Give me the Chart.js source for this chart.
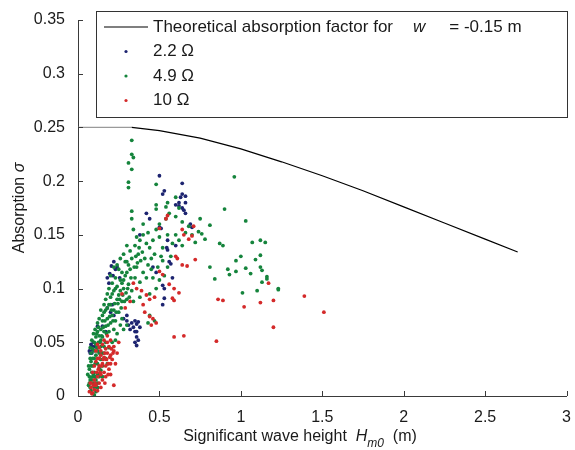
<!DOCTYPE html>
<html>
<head>
<meta charset="utf-8">
<script src="https://cdn.jsdelivr.net/npm/chart.js@4.4.1/dist/chart.umd.min.js"></script>
<style>
  html, body { margin: 0; padding: 0; background: #fff; }
</style>
</head>
<body>
<canvas id="chart" width="575" height="450"></canvas>
<script>
'use strict';

// ── Data ─────────────────────────────────────────────────────
const xTicks = [0, 0.5, 1, 1.5, 2, 2.5, 3];
const yTicks = [0, 0.05, 0.1, 0.15, 0.2, 0.25, 0.3, 0.35];

const seriesLabels = ['Theoretical absorption factor for', '2.2 \u03A9', '4.9 \u03A9', '10 \u03A9'];

// theoretical curve, w = -0.15 m
const theoryH     = [0, 0.33, 0.5, 0.75, 1.0, 1.25, 1.5, 1.75, 2.0, 2.25, 2.5, 2.7];
const theorySigma = [0.25, 0.25, 0.247, 0.240, 0.230, 0.218, 0.205, 0.191, 0.176, 0.161, 0.146, 0.134];

// measured points [Hm0, sigma]
const pts22 = [
  [0.50,0.205],[0.64,0.198],[0.53,0.191],[0.52,0.188],[0.64,0.188],[0.66,0.186],[0.60,0.178],[0.62,0.177],
  [0.64,0.175],[0.65,0.173],[0.66,0.170],[0.62,0.180],[0.50,0.157],[0.51,0.156],[0.545,0.138],[0.55,0.136],
  [0.56,0.125],[0.57,0.123],[0.53,0.100],[0.52,0.103],[0.58,0.110],[0.205,0.121],[0.195,0.114],[0.215,0.112],
  [0.256,0.110],[0.23,0.118],[0.18,0.110],[0.19,0.105],[0.31,0.066],[0.33,0.068],[0.35,0.070],[0.36,0.067],
  [0.37,0.069],[0.34,0.064],[0.35,0.060],[0.36,0.055],[0.35,0.050],[0.36,0.047],[0.37,0.052],[0.083,0.046],
  [0.09,0.043],[0.075,0.040],[0.08,0.048],[0.095,0.050],[0.18,0.082],[0.20,0.078],[0.22,0.075],[0.21,0.085],
  [0.28,0.072],[0.30,0.075],[0.42,0.170],[0.44,0.165],[0.38,0.150],[0.55,0.145],[0.48,0.115],[0.46,0.120],
  [0.17,0.060],[0.15,0.065],[0.12,0.065],[0.60,0.140],[0.53,0.091],[0.52,0.085],[0.69,0.160],[0.70,0.157],
  [0.07,0.042],[0.085,0.040],[0.10,0.046],[0.30,0.070],[0.32,0.062],[0.38,0.064],[0.36,0.060],[0.24,0.120],
  [0.22,0.125],[0.66,0.180],[0.63,0.185]
];

const pts49 = [
  [0.07,0.012],[0.08,0.005],[0.09,0.018],[0.07,0.025],[0.08,0.032],[0.09,0.028],[0.10,0.022],[0.11,0.015],
  [0.10,0.035],[0.08,0.040],[0.09,0.044],[0.11,0.038],[0.12,0.030],[0.12,0.020],[0.13,0.026],[0.10,0.008],
  [0.11,0.004],[0.13,0.040],[0.14,0.034],[0.15,0.028],[0.07,0.018],[0.085,0.022],[0.095,0.012],[0.105,0.030],
  [0.115,0.045],[0.125,0.050],[0.075,0.035],[0.06,0.020],[0.065,0.028],[0.14,0.046],[0.16,0.040],[0.17,0.035],
  [0.18,0.030],[0.15,0.018],
  [0.065,0.010],[0.075,0.008],[0.085,0.015],[0.095,0.020],[0.105,0.018],[0.12,0.012],[0.13,0.018],[0.14,0.024],
  [0.075,0.045],[0.085,0.052],[0.095,0.058],[0.105,0.062],[0.115,0.058],[0.125,0.064],[0.135,0.050],[0.145,0.056],
  [0.155,0.064],[0.165,0.070],[0.175,0.058],[0.185,0.066],[0.195,0.074],[0.205,0.080],[0.215,0.070],[0.225,0.086],
  [0.235,0.078],[0.245,0.086],[0.255,0.090],[0.265,0.082],[0.275,0.094],[0.285,0.088],[0.295,0.096],[0.305,0.100],
  [0.315,0.092],[0.325,0.110],[0.345,0.120],[0.355,0.130],[0.365,0.124],[0.375,0.138],[0.385,0.126],[0.395,0.134],
  [0.41,0.128],[0.43,0.122],[0.46,0.110],[0.49,0.120],[0.51,0.130],[0.21,0.095],[0.23,0.100],[0.24,0.090],
  [0.26,0.098],[0.28,0.108],[0.30,0.115],[0.31,0.122],[0.29,0.125],[0.27,0.105],[0.19,0.085],[0.16,0.085],
  [0.15,0.075],[0.17,0.080],[0.11,0.048],[0.13,0.035],[0.15,0.040],[0.16,0.046],[0.09,0.035],[0.10,0.042],
  [0.12,0.042],[0.14,0.052],[0.08,0.028],[0.075,0.015],[0.10,0.001],[0.12,0.008],
  [0.10,0.050],[0.11,0.055],[0.12,0.060],[0.13,0.056],[0.14,0.062],[0.15,0.055],[0.16,0.060],[0.12,0.068],
  [0.13,0.072],[0.15,0.070],[0.17,0.065],[0.18,0.072],[0.16,0.078],[0.19,0.060],[0.20,0.068],[0.21,0.075],
  [0.22,0.062],[0.23,0.070],[0.24,0.058],[0.14,0.080],[0.18,0.082],[0.20,0.085],[0.22,0.080],[0.25,0.078],
  [0.26,0.066],[0.17,0.050],[0.19,0.045],[0.21,0.050],[0.23,0.052],[0.27,0.072],[0.28,0.062],[0.30,0.066],
  [0.43,0.068],[0.44,0.075],[0.47,0.070],
  [0.17,0.090],[0.18,0.095],[0.19,0.100],[0.20,0.092],[0.21,0.105],[0.22,0.098],[0.23,0.110],[0.24,0.102],
  [0.25,0.094],[0.26,0.108],[0.27,0.115],[0.28,0.100],[0.29,0.112],[0.30,0.090],[0.31,0.104],[0.32,0.118],
  [0.33,0.098],[0.35,0.110],[0.36,0.120],[0.38,0.106],[0.40,0.115],[0.42,0.110],[0.45,0.118],[0.48,0.100],
  [0.50,0.108],[0.53,0.112],[0.55,0.120],[0.20,0.112],[0.22,0.120],[0.25,0.118],[0.27,0.088],[0.34,0.088],
  [0.38,0.092],[0.44,0.095],
  [0.24,0.122],[0.26,0.128],[0.28,0.132],[0.30,0.125],[0.32,0.135],[0.33,0.128],[0.35,0.140],[0.37,0.132],
  [0.36,0.148],[0.38,0.145],[0.40,0.150],[0.42,0.142],[0.44,0.138],[0.46,0.145],[0.48,0.155],[0.50,0.148],
  [0.52,0.138],[0.55,0.150],[0.58,0.142],[0.60,0.150],[0.62,0.145],[0.64,0.140],[0.66,0.152],[0.68,0.158],
  [0.70,0.150],[0.72,0.143],[0.74,0.153],[0.75,0.165],[0.45,0.128],[0.47,0.132],[0.52,0.126],[0.57,0.130],
  [0.30,0.140],[0.34,0.155],[0.33,0.165],[0.33,0.172],[0.40,0.160],[0.43,0.152],[0.50,0.160],[0.54,0.165],
  [0.56,0.170],[0.60,0.167],[0.64,0.162],
  [0.33,0.238],[0.33,0.225],[0.34,0.222],[0.31,0.217],[0.33,0.211],[0.31,0.199],[0.31,0.194],[0.48,0.197],
  [0.48,0.178],[0.48,0.174],[0.54,0.176],[0.55,0.180],[0.60,0.185],[0.62,0.175],
  [0.81,0.159],[0.90,0.174],[0.96,0.204],[1.03,0.163],[0.87,0.142],[0.89,0.140],[1.07,0.143],[1.12,0.145],
  [1.15,0.143],[1.12,0.131],[1.09,0.127],[1.00,0.130],[0.97,0.126],[0.92,0.118],[0.93,0.113],[0.97,0.116],
  [0.81,0.120],[0.84,0.109],[1.03,0.119],[1.06,0.114],[1.12,0.120],[1.13,0.117],[1.16,0.111],[1.16,0.109],
  [1.10,0.098],[1.01,0.096],[1.23,0.100],[1.23,0.099],[0.76,0.151],[0.78,0.146],[1.13,0.106]
];

const pts10 = [
  [0.55,0.168],[0.54,0.165],[0.50,0.156],[0.64,0.155],[0.65,0.150],[0.68,0.146],[0.70,0.149],[0.71,0.158],
  [0.60,0.130],[0.61,0.128],[0.64,0.122],[0.67,0.121],[0.72,0.127],[0.50,0.116],[0.52,0.113],[0.56,0.104],
  [0.59,0.100],[0.62,0.096],[0.58,0.091],[0.59,0.089],[0.86,0.090],[0.89,0.089],[1.02,0.083],[1.12,0.087],
  [1.17,0.105],[1.20,0.089],[1.20,0.064],[1.39,0.093],[1.51,0.078],[0.59,0.055],[0.65,0.056],[0.85,0.051],
  [0.42,0.094],[0.44,0.090],[0.47,0.092],[0.41,0.078],[0.44,0.074],[0.46,0.072],[0.48,0.068],[0.45,0.066],
  [0.07,0.004],[0.08,0.008],[0.09,0.003],[0.10,0.006],[0.11,0.010],[0.12,0.005],[0.08,0.012],[0.13,0.012],
  [0.14,0.008],[0.10,0.015],[0.12,0.018],[0.14,0.020],[0.15,0.015],[0.16,0.022],[0.17,0.018],[0.13,0.028],
  [0.15,0.030],[0.17,0.028],[0.19,0.025],[0.20,0.030],[0.12,0.035],[0.14,0.038],[0.16,0.036],[0.18,0.040],
  [0.20,0.038],[0.21,0.034],[0.11,0.042],[0.13,0.045],[0.15,0.048],[0.17,0.044],[0.19,0.046],[0.22,0.042],
  [0.16,0.052],[0.18,0.056],[0.10,0.028],[0.09,0.022],[0.20,0.020],[0.22,0.010],[0.23,0.030],[0.24,0.040],
  [0.25,0.050],[0.29,0.082],[0.32,0.088],[0.27,0.095],[0.36,0.100],[0.39,0.098],[0.34,0.105],[0.40,0.085],
  [0.075,0.012],[0.085,0.002],[0.095,0.010],[0.105,0.012],[0.115,0.022],[0.125,0.025],[0.135,0.022],[0.145,0.028],
  [0.155,0.034],[0.165,0.040],[0.175,0.034],[0.185,0.030],[0.195,0.036],[0.205,0.044],[0.215,0.040],[0.185,0.020],
  [0.165,0.012],[0.18,0.050],[0.20,0.052],[0.22,0.046],[0.14,0.042],[0.12,0.048],[0.11,0.032],[0.13,0.035]
];

// ── Styles ───────────────────────────────────────────────────
const FONT   = '"Liberation Sans", Arial, Helvetica, sans-serif';
const FSIZE  = 16;
const LSIZE  = 17;
const INK    = '#1a1a1a';
const AXIS   = '#3a3a3a';
const COLORS = { theory: '#000000', lead: '#9a9a9a', s22: '#1d2470', s49: '#15843c', s10: '#d42a2a' };

const toXY = arr => arr.map(p => ({ x: p[0], y: p[1] }));

// ── Custom drawing: inward ticks, legend, axis titles ────────
const decorPlugin = {
  id: 'decor',
  afterDraw(chart) {
    const { ctx, chartArea: a, scales: { x, y } } = chart;
    ctx.save();

    // inward ticks (MATLAB style)
    ctx.strokeStyle = AXIS; ctx.lineWidth = 1;
    ctx.beginPath();
    xTicks.forEach(v => { const px = Math.round(x.getPixelForValue(v)) + 0.5; ctx.moveTo(px, a.bottom); ctx.lineTo(px, a.bottom - 5); });
    yTicks.forEach(v => { const py = Math.round(y.getPixelForValue(v)) + 0.5; ctx.moveTo(a.left, py); ctx.lineTo(a.left + 5, py); });
    ctx.stroke();

    // legend box
    const bx = 96, by = 11, bw = 471, bh = 106, rowH = 24.5;
    ctx.fillStyle = '#fff'; ctx.fillRect(bx, by, bw, bh);
    ctx.strokeStyle = '#333'; ctx.lineWidth = 1;
    ctx.strokeRect(bx + 0.5, by + 0.5, bw, bh);

    ctx.textBaseline = 'middle'; ctx.textAlign = 'left';
    ctx.font = `${LSIZE}px ${FONT}`; ctx.fillStyle = INK;
    const tx = bx + 57;
    let ry = by + 16;

    ctx.strokeStyle = COLORS.theory; ctx.lineWidth = 1.2;
    ctx.beginPath(); ctx.moveTo(bx + 8, ry); ctx.lineTo(bx + 52, ry); ctx.stroke();
    ctx.fillText(seriesLabels[0], tx, ry);
    let cx = tx + ctx.measureText(seriesLabels[0]).width + 20;
    ctx.font = `italic ${LSIZE}px ${FONT}`;
    ctx.fillText('w', cx, ry);
    cx += ctx.measureText('w').width + 24;
    ctx.font = `${LSIZE}px ${FONT}`;
    ctx.fillText('= -0.15 m', cx, ry);

    [[seriesLabels[1], COLORS.s22], [seriesLabels[2], COLORS.s49], [seriesLabels[3], COLORS.s10]].forEach(([lab, col]) => {
      ry += rowH;
      ctx.fillStyle = col;
      ctx.beginPath(); ctx.arc(bx + 30, ry, 1.6, 0, Math.PI * 2); ctx.fill();
      ctx.fillStyle = INK;
      ctx.fillText(lab, tx, ry);
    });

    // x axis title
    ctx.font = `${FSIZE}px ${FONT}`;
    const p1 = 'Significant wave height  ', p3 = '  (m)';
    const w1 = ctx.measureText(p1).width, w3 = ctx.measureText(p3).width;
    ctx.font = `italic ${FSIZE}px ${FONT}`;
    const wH = ctx.measureText('H').width;
    ctx.font = `italic ${FSIZE - 4}px ${FONT}`;
    const wS = ctx.measureText('m0').width;
    const total = w1 + wH + wS + w3;
    let xx = 300 - total / 2;
    const ty = 437;
    ctx.fillStyle = INK;
    ctx.font = `${FSIZE}px ${FONT}`; ctx.fillText(p1, xx, ty); xx += w1;
    ctx.font = `italic ${FSIZE}px ${FONT}`; ctx.fillText('H', xx, ty); xx += wH;
    ctx.font = `italic ${FSIZE - 4}px ${FONT}`; ctx.fillText('m0', xx, ty + 7); xx += wS;
    ctx.font = `${FSIZE}px ${FONT}`; ctx.fillText(p3, xx, ty);

    // y axis title
    ctx.save();
    ctx.translate(20, (a.top + a.bottom) / 2);
    ctx.rotate(-Math.PI / 2);
    ctx.font = `${FSIZE}px ${FONT}`;
    const ya = 'Absorption ';
    const wa = ctx.measureText(ya).width;
    ctx.font = `italic ${FSIZE}px ${FONT}`;
    const ws = ctx.measureText('\u03C3').width;
    let yy = -(wa + ws) / 2;
    ctx.font = `${FSIZE}px ${FONT}`; ctx.fillText(ya, yy, 0); yy += wa;
    ctx.font = `italic ${FSIZE}px ${FONT}`; ctx.fillText('\u03C3', yy, 0);
    ctx.restore();

    ctx.restore();
  }
};

// ── Chart ────────────────────────────────────────────────────
const scatterSet = (label, pts, color, order) => ({
  label, data: toXY(pts), type: 'scatter', order,
  backgroundColor: color, borderColor: color,
  pointRadius: 1.9, pointBorderWidth: 0, pointHoverRadius: 1.9
});

new Chart(document.getElementById('chart').getContext('2d'), {
  type: 'scatter',
  data: {
    datasets: [
      {
        label: seriesLabels[0], type: 'line', order: 0,
        data: theoryH.map((h, i) => ({ x: h, y: theorySigma[i] })),
        borderColor: COLORS.theory, borderWidth: 1.2, pointRadius: 0, fill: false, tension: 0,
        segment: { borderColor: c => c.p0DataIndex === 0 ? COLORS.lead : COLORS.theory }
      },
      scatterSet(seriesLabels[3], pts10, COLORS.s10, 1),
      scatterSet(seriesLabels[2], pts49, COLORS.s49, 2),
      scatterSet(seriesLabels[1], pts22, COLORS.s22, 3)
    ]
  },
  options: {
    responsive: false, animation: false,
    layout: { padding: { top: 20, right: 6, left: 0, bottom: 0 } },
    plugins: { legend: { display: false }, tooltip: { enabled: false } },
    scales: {
      x: {
        type: 'linear', min: xTicks[0], max: xTicks[xTicks.length - 1],
        afterBuildTicks: s => { s.ticks = xTicks.map(v => ({ value: v })); },
        afterFit: s => { s.height = 54; },
        grid: { display: false },
        border: { display: true, color: AXIS, width: 1 },
        ticks: { color: INK, font: { family: FONT, size: FSIZE }, padding: 4, maxRotation: 0, callback: v => String(v) }
      },
      y: {
        type: 'linear', min: yTicks[0], max: yTicks[yTicks.length - 1],
        afterBuildTicks: s => { s.ticks = yTicks.map(v => ({ value: v })); },
        afterFit: s => { s.width = 78; },
        grid: { display: false },
        border: { display: true, color: AXIS, width: 1 },
        ticks: { color: INK, font: { family: FONT, size: FSIZE }, padding: 5, callback: v => String(v) }
      }
    }
  },
  plugins: [decorPlugin]
});
</script>
</body>
</html>
